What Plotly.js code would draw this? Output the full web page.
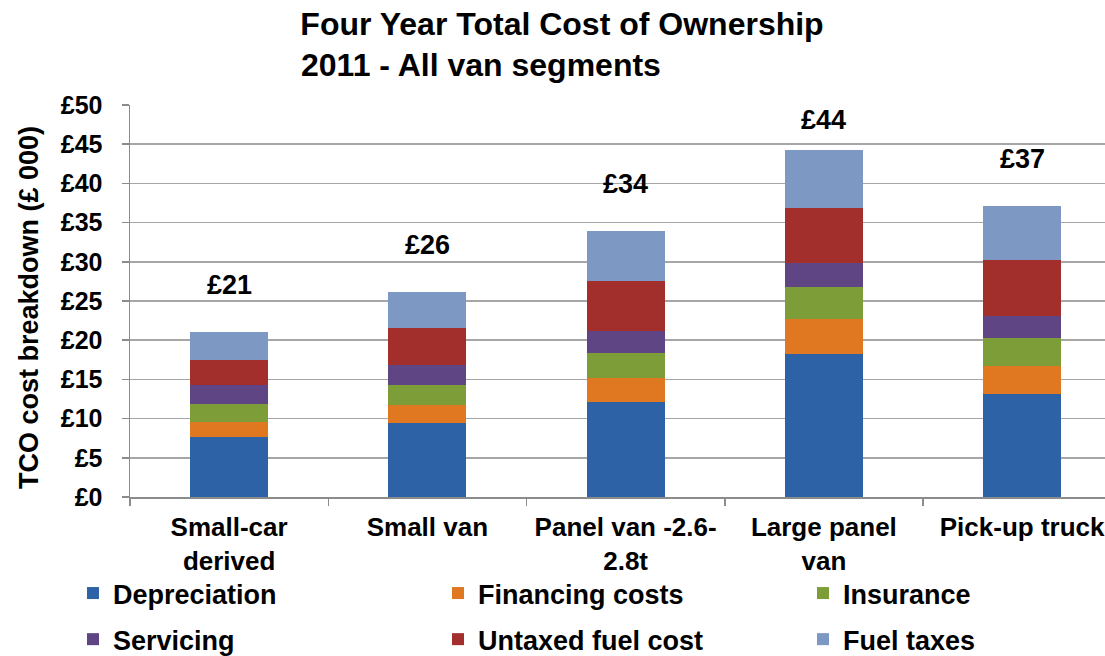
<!DOCTYPE html>
<html>
<head>
<meta charset="utf-8">
<script src="https://cdn.plot.ly/plotly-3.0.1.min.js"></script>
<style>html,body{margin:0;padding:0;background:#fff}#chart{width:1105px;height:656px}</style>
</head>
<body>
<div id="chart"></div>
<script>
// Data (£ 000)
const categories = ["Small-car<br>derived", "Small van", "Panel van -2.6-<br>2.8t", "Large panel<br>van", "Pick-up truck"];
const depreciation   = [7.6, 9.4, 12.1, 18.2, 13.2];
const financingCosts = [2.0, 2.3, 3.1, 4.5, 3.5];
const insurance      = [2.3, 2.6, 3.2, 4.1, 3.6];
const servicing      = [2.4, 2.6, 2.8, 3.0, 2.8];
const untaxedFuel    = [3.2, 4.7, 6.4, 7.1, 7.1];
const fuelTaxes      = [3.5, 4.55, 6.3, 7.3, 6.9];
const seriesNames = ["Depreciation", "Financing costs", "Insurance", "Servicing", "Untaxed fuel cost", "Fuel taxes"];
const yTickVals = [0, 5, 10, 15, 20, 25, 30, 35, 40, 45, 50];

const FONT = "Liberation Sans, Arial, sans-serif";
const seriesData = [depreciation, financingCosts, insurance, servicing, untaxedFuel, fuelTaxes];
const colors = ["#2D62A6", "#DF7821", "#7D9D39", "#604585", "#A32F2D", "#7E98C4"];
const legendIds = ["legend", "legend2", "legend3", "legend", "legend2", "legend3"];

const traces = seriesData.map((vals, i) => ({
  type: "bar",
  name: seriesNames[i],
  x: categories,
  y: vals,
  marker: { color: colors[i], line: { width: 0 } },
  legend: legendIds[i],
  legendgroup: "g" + i,
  hoverinfo: "none"
}));

const totals = categories.map((c, j) => seriesData.reduce((s, arr) => s + arr[j], 0));

const annotations = totals.map((t, j) => ({
  x: categories[j], y: Math.min(t + 6.0, 48.1), xref: "x", yref: "y",
  text: "£" + Math.round(t), showarrow: false, yanchor: "middle",
  font: { family: FONT, size: 27, color: "#000", weight: 700 }
}));
annotations.push({
  xref: "paper", yref: "paper", x: (299 - 130) / 975, y: (497 - 65) / 392,
  xanchor: "left", yanchor: "middle", showarrow: false,
  text: "2011 - All van segments",
  font: { family: FONT, size: 32, color: "#000", weight: 700 }
});
// y-axis title
annotations.push({
  xref: "paper", yref: "paper", x: (29 - 130) / 975, y: (497 - 308) / 392,
  xanchor: "center", yanchor: "middle", showarrow: false, textangle: -90,
  text: "TCO cost breakdown (£ 000)",
  font: { family: FONT, size: 27, color: "#000", weight: 700 }
});

const legendBase = {
  orientation: "v", yanchor: "top", xanchor: "left",
  bgcolor: "rgba(0,0,0,0)", borderwidth: 0,
  font: { family: FONT, size: 27, color: "#000", weight: 700 },
  tracegroupgap: 8, itemclick: false, itemdoubleclick: false,
  traceorder: "grouped"
};
const legY = (497 - 569) / 392;

const layout = {
  width: 1105, height: 656,
  margin: { l: 130, r: 0, t: 105, b: 159, pad: 0, autoexpand: false },
  paper_bgcolor: "#fff", plot_bgcolor: "#fff",
  barmode: "stack", bargap: 0.606,
  showlegend: true,
  title: {
    text: "Four Year Total Cost of Ownership",
    x: 562 / 1105, xanchor: "center", xref: "container",
    y: 1 - 24 / 656, yanchor: "middle", yref: "container",
    font: { family: FONT, size: 32, color: "#000", weight: 700 }
  },
  xaxis: {
    type: "category",
    range: [-0.5, -0.5 + 975 / 198.25],
    showline: true, linecolor: "#8c8c8c", linewidth: 1.5,
    ticks: "outside", tickson: "boundaries", ticklen: 7, tickcolor: "#8c8c8c", tickwidth: 1.5,
    showgrid: false, zeroline: false,
    ticklabelstandoff: 6,
    tickfont: { family: FONT, size: 26, color: "#000", weight: 700 }
  },
  yaxis: {
    range: [0, 50], tickvals: yTickVals, ticktext: yTickVals.map(v => "£" + v),
    showline: true, linecolor: "#8c8c8c", linewidth: 1.5,
    ticks: "outside", ticklen: 7, tickcolor: "#8c8c8c", tickwidth: 1.5,
    showgrid: true, gridcolor: "#a6a6a6", gridwidth: 1.5, zeroline: false,
    ticklabelstandoff: 14,
    tickfont: { family: FONT, size: 25, color: "#000", weight: 700 }
  },
  legend:  Object.assign({}, legendBase, { x: (73 - 130) / 975, y: legY }),
  legend2: Object.assign({}, legendBase, { x: (438 - 130) / 975, y: legY }),
  legend3: Object.assign({}, legendBase, { x: (803 - 130) / 975, y: legY }),
  annotations: annotations
};

Plotly.newPlot("chart", traces, layout, { displayModeBar: false, staticPlot: true });
</script>
</body>
</html>
